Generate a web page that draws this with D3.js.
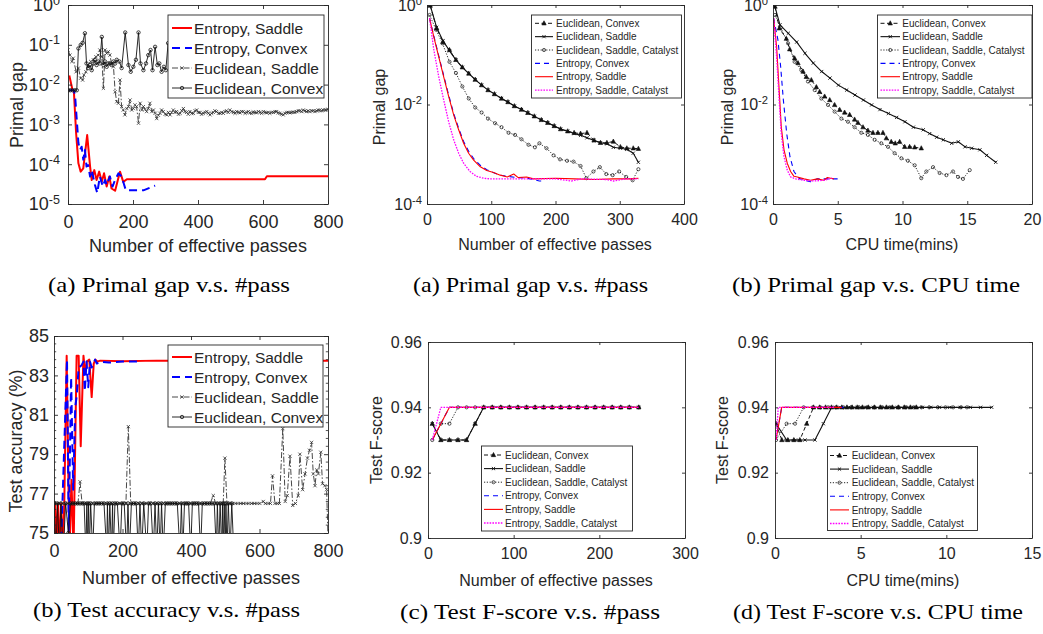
<!DOCTYPE html>
<html><head><meta charset="utf-8">
<script src="https://cdn.jsdelivr.net/npm/d3@7"></script>
<style>body{margin:0;background:#fff} svg{display:block}</style>
</head><body><script>
// ---------------- DATA ----------------
// (a) top-left: primal gap vs #pass (log y)
const aEntSaddle = [[4,1.7e-2],[14,7.2e-3],[18,7.0e-3],[25,6.0e-4],[32,1.05e-4],[39,6.5e-5],[47,7.9e-5],[59,5.4e-4],[68,8.7e-5],[73,4.0e-5],[81,7.1e-5],[88,4.0e-5],[96,6.5e-5],[104,3.6e-5],[111,5.9e-5],[119,2.75e-5],[127,4.9e-5],[134,2.45e-5],[145,2.15e-5],[152,3.6e-5],[160,6.5e-5],[170,3.6e-5],[181,4.2e-5],[606,4.2e-5],[612,5.0e-5],[800,5.0e-5]];
const aEntConvex = [[4,7.2e-3],[18,7.2e-3],[22,5.0e-3],[32,3.4e-4],[37,2.3e-4],[42,2.75e-4],[47,1.3e-4],[52,2.3e-4],[57,8.7e-5],[62,9.5e-5],[68,4.9e-5],[73,7.1e-5],[83,3.0e-5],[90,1.9e-5],[98,4.9e-5],[107,2.75e-5],[114,4.0e-5],[119,3.0e-5],[129,4.9e-5],[137,2.75e-5],[145,4.0e-5],[155,5.9e-5],[165,4.9e-5],[178,2.2e-5],[232,2.2e-5],[268,2.9e-5]];
const aEucSaddle = [[0,7.4e-2],[6,5.5e-2],[12,3.8e-2],[16,4.6e-2],[25,2.1e-2],[32,2.6e-2],[39,1.45e-2],[45,1.3e-2],[49,1.74e-2],[55,2.1e-2],[62,3.1e-2],[70,3.8e-2],[78,4.2e-2],[86,5.0e-2],[93,5.5e-2],[98,7.4e-2],[104,5.0e-2],[109,8.1e-3],[114,7.4e-2],[119,6.1e-2],[124,6.7e-2],[129,5.5e-2],[134,3.4e-2],[140,2.8e-2],[145,6.6e-3],[150,3.7e-3],[155,3.4e-3],[160,1.3e-2],[165,2.8e-3],[170,2.3e-3],[175,1.74e-3],[181,2.5e-3],[186,2.8e-3],[191,4.1e-3],[196,2.3e-3],[201,2.5e-3],[206,3.1e-3],[211,2.8e-3],[217,1.07e-3],[222,3.4e-3],[227,2.3e-3],[232,2.8e-3],[237,2.4e-3],[242,2.1e-3],[247,2.5e-3],[252,3.4e-3],[258,2.1e-3],[263,2.3e-3],[268,1.9e-3],[273,1.4e-3],[278,1.7e-3],[283,1.9e-3],[288,2.3e-3],[293,2.1e-3],[299,1.8e-3],[304,1.74e-3],[309,2.0e-3],[314,1.74e-3],[319,2.0e-3],[324,2.3e-3],[329,2.0e-3],[334,2.1e-3],[340,1.8e-3],[345,1.9e-3],[350,2.2e-3],[355,2.5e-3],[360,2.1e-3],[365,2.0e-3],[370,1.8e-3],[375,2.1e-3],[381,1.9e-3],[386,1.9e-3],[391,2.2e-3],[396,2.3e-3],[401,2.0e-3],[406,2.0e-3],[411,1.8e-3],[416,1.9e-3],[422,2.0e-3],[427,2.1e-3],[432,1.9e-3],[437,1.74e-3],[442,1.9e-3],[447,2.0e-3],[452,2.2e-3],[457,2.1e-3],[463,1.9e-3],[468,1.9e-3],[473,2.0e-3],[478,1.9e-3],[483,2.1e-3],[488,2.2e-3],[493,2.0e-3],[498,2.3e-3],[504,2.1e-3],[509,2.0e-3],[514,1.9e-3],[519,2.1e-3],[524,2.0e-3],[529,1.95e-3],[534,2.1e-3],[539,2.1e-3],[545,1.9e-3],[550,2.0e-3],[555,2.1e-3],[560,1.95e-3],[565,1.9e-3],[570,2.05e-3],[575,2.0e-3],[580,1.95e-3],[586,2.1e-3],[591,2.0e-3],[596,1.9e-3],[601,2.1e-3],[606,2.0e-3],[611,1.95e-3],[616,2.0e-3],[621,1.9e-3],[627,2.0e-3],[632,2.0e-3],[637,2.1e-3],[642,2.1e-3],[647,1.95e-3],[652,1.9e-3],[657,1.8e-3],[662,1.74e-3],[668,1.9e-3],[673,2.0e-3],[678,2.0e-3],[683,1.95e-3],[688,2.0e-3],[693,2.05e-3],[698,2.0e-3],[703,2.1e-3],[709,2.2e-3],[714,2.2e-3],[719,2.1e-3],[724,2.3e-3],[729,2.2e-3],[734,2.1e-3],[739,2.2e-3],[744,2.1e-3],[750,2.2e-3],[755,2.2e-3],[760,2.1e-3],[765,2.2e-3],[770,2.3e-3],[775,2.25e-3],[780,2.2e-3],[785,2.3e-3],[791,2.3e-3],[795,2.3e-3],[800,2.4e-3]];
const aEucConvex = [[0,7.2e-3],[7,7.2e-3],[14,7.2e-3],[21,7.2e-3],[27,7.2e-3],[32,8.1e-2],[39,9.9e-2],[45,1.12e-1],[52,1.95e-1],[57,3.4e-2],[62,2.6e-2],[68,3.1e-2],[73,2.3e-2],[78,3.4e-2],[83,4.2e-2],[88,3.1e-2],[93,3.8e-2],[98,3.4e-2],[104,1.58e-1],[109,3.1e-2],[114,3.8e-2],[119,2.8e-2],[124,3.4e-2],[129,3.4e-2],[134,3.1e-2],[140,3.8e-2],[145,3.4e-2],[150,4.2e-2],[158,3.8e-2],[165,2.6e-2],[176,2.04e-1],[186,3.1e-2],[193,2.1e-2],[201,2.8e-2],[209,4.2e-2],[217,2.04e-1],[223,3.4e-2],[232,2.3e-2],[240,3.4e-2],[247,5.5e-2],[254,7.4e-2],[260,2.3e-2],[268,8.9e-2],[275,3.1e-2],[281,3.4e-2],[288,2.1e-2],[295,2.8e-2],[301,2.3e-2],[308,1.1e-1],[315,4.0e-2]];

// (a) top-middle: primal gap vs #pass
const bEucConvex = [[5,0.97],[15,0.34],[25,0.18],[35,0.125],[45,0.079],[55,0.056],[65,0.042],[75,0.0316],[85,0.0245],[95,0.0195],[105,0.0162],[116,0.0132],[126,0.0112],[136,0.0093],[147,0.0079],[157,0.0068],[167,0.0058],[178,0.0049],[188,0.0043],[198,0.0037],[208,0.0032],[219,0.0029],[229,0.0027],[239,0.0026],[249,0.0027],[260,0.0019],[270,0.0017],[280,0.0017],[290,0.0018],[301,0.0014],[311,0.00132],[321,0.00132],[329,0.00129]];
const bEucSaddle = [[5,0.98],[15,0.355],[25,0.19],[35,0.12],[45,0.079],[55,0.056],[65,0.042],[75,0.0316],[85,0.0245],[95,0.0195],[105,0.0162],[116,0.0132],[126,0.0112],[136,0.0093],[147,0.0079],[157,0.0068],[167,0.0058],[178,0.0049],[188,0.0043],[198,0.0037],[208,0.0032],[219,0.0029],[229,0.0026],[239,0.0024],[249,0.00214],[260,0.0019],[270,0.0017],[280,0.00162],[290,0.00138],[301,0.00132],[311,0.00126],[321,0.00105],[329,0.00069]];
const bEucCatalyst = [[4,0.63],[14,0.32],[24,0.17],[35,0.072],[45,0.043],[55,0.023],[65,0.0132],[75,0.0087],[85,0.0069],[95,0.0052],[106,0.0042],[116,0.0035],[127,0.0027],[137,0.00245],[147,0.002],[158,0.00155],[168,0.00138],[175,0.00166],[186,0.00132],[197,0.00095],[207,0.00079],[218,0.00074],[228,0.00071],[239,0.00058],[248,0.00033],[259,0.00045],[269,0.00055],[279,0.0004],[289,0.00038],[299,0.00045],[310,0.00035],[320,0.0003],[329,0.0005]];
const bEntConvex = [[4,0.54],[10.6,0.24],[18.3,0.095],[26,0.038],[33.7,0.0155],[41.5,0.0066],[49.3,0.0033],[57,0.0018],[64.8,0.00115],[72.6,0.00082],[83,0.0006],[93,0.00049],[103,0.00043],[114,0.00038],[125,0.00036],[140,0.00034],[155,0.00033],[166,0.00031],[175,0.00029],[178,0.00029]];
const bEntSaddle = [[4,0.54],[10.6,0.23],[18.3,0.091],[26,0.036],[33.7,0.0145],[41.5,0.0062],[49.3,0.0031],[57,0.00166],[64.8,0.00105],[72.6,0.00076],[83,0.00056],[93,0.00047],[103.5,0.00043],[114,0.00038],[125,0.00035],[135,0.0004],[142,0.00034],[155,0.00035],[166,0.00032],[200,0.00033],[230,0.00032],[260,0.00031],[290,0.00032],[315,0.00032],[329,0.00033]];
const bEntCatalyst = [[4,0.54],[10.6,0.126],[18.3,0.036],[26,0.0123],[33.7,0.0045],[41.5,0.00195],[49.3,0.00105],[57,0.00066],[67,0.00045],[77,0.00036],[88,0.00033],[98,0.00032],[150,0.00032],[200,0.00032],[225,0.00029],[240,0.00032],[280,0.00031],[290,0.00029],[310,0.00032],[329,0.00032]];

// (b) top-right: primal gap vs CPU time
const cEucConvex = [[0.15,0.93],[0.49,0.34],[1.03,0.21],[1.29,0.129],[1.67,0.085],[1.93,0.068],[2.32,0.046],[2.57,0.036],[2.96,0.031],[3.35,0.0224],[3.6,0.018],[3.99,0.0145],[4.38,0.0123],[4.76,0.0098],[5.15,0.0078],[5.53,0.0069],[5.92,0.0062],[6.3,0.005],[6.56,0.0043],[6.95,0.0035],[7.33,0.003],[7.72,0.0027],[8.1,0.0027],[8.49,0.0027],[8.75,0.0021],[9.13,0.00178],[9.44,0.00166],[9.78,0.00178],[10.17,0.00141],[10.55,0.00141],[10.94,0.00138],[11.45,0.00132]];
const cEucSaddle = [[0.15,0.93],[0.54,0.4],[1.18,0.27],[1.83,0.18],[2.47,0.107],[3.11,0.068],[3.76,0.046],[4.4,0.034],[5.05,0.0245],[5.69,0.0195],[6.33,0.0155],[6.98,0.0123],[7.62,0.0098],[8.26,0.0079],[8.91,0.0066],[9.55,0.0055],[10.19,0.0045],[10.84,0.0035],[11.6,0.0031],[12.1,0.0026],[12.64,0.0022],[13.15,0.00195],[13.8,0.00166],[14.31,0.00178],[14.83,0.00141],[15.34,0.00132],[15.98,0.00123],[16.5,0.00095],[17.2,0.00069]];
const cEucCatalyst = [[0.15,0.63],[0.6,0.35],[1.16,0.17],[1.67,0.072],[2.19,0.049],[2.7,0.029],[3.22,0.0195],[3.73,0.0132],[4.25,0.0098],[4.76,0.0072],[5.28,0.0052],[5.79,0.0045],[6.3,0.0035],[6.82,0.0027],[7.33,0.00245],[7.85,0.00195],[8.36,0.00166],[8.88,0.00141],[9.39,0.00105],[9.91,0.00083],[10.42,0.00074],[10.94,0.0006],[11.45,0.00033],[11.84,0.00045],[12.36,0.00055],[12.87,0.00042],[13.39,0.00038],[13.9,0.00045],[14.29,0.00035],[14.67,0.00032],[15.19,0.00048]];
const cEntConvex = [[0.05,0.54],[0.38,0.2],[0.59,0.058],[0.8,0.0123],[1.06,0.0026],[1.31,0.00089],[1.62,0.00045],[2.0,0.00033],[2.39,0.0003],[2.9,0.00028],[3.42,0.00032],[3.93,0.00032],[4.45,0.00032],[5.05,0.00032]];
const cEntSaddle = [[0.05,0.54],[0.28,0.145],[0.46,0.023],[0.64,0.0035],[0.85,0.00123],[1.1,0.00066],[1.36,0.00045],[1.62,0.00036],[1.88,0.00035],[2.39,0.00032],[2.9,0.0003],[3.42,0.00032],[3.93,0.0003],[4.2,0.00034],[4.45,0.00033],[4.7,0.00032]];
const cEntCatalyst = [[0.05,0.54],[0.28,0.091],[0.46,0.0145],[0.64,0.0026],[0.85,0.00089],[1.1,0.00048],[1.36,0.00035],[1.75,0.00032],[2.39,0.0003],[3.16,0.00029],[3.93,0.0003],[4.57,0.00033]];

// (b) bottom-left: test accuracy vs #pass
const dEntSaddle = [[0,74],[4,76.5],[8,74],[12,76.5],[16,74],[21,76.5],[26,74],[30,76.5],[37,84],[45,74],[51,77.7],[57,74],[66,84],[72,84],[78,79.4],[86,84],[91,83.1],[96,83.7],[103,83.8],[110,81.9],[116,83.6],[121,83.8],[126,83.7],[135,83.75],[200,83.72],[300,83.75],[400,83.74],[500,83.75],[600,83.75],[700,83.75],[800,83.75]];
const dEntConvex = [[20,74],[38,83.8],[43,75.1],[50,82.9],[56,77.2],[62,81.4],[66,81.9],[72,83.4],[80,83.5],[86,83.7],[90,82.2],[95,83.7],[100,82.4],[105,83.7],[110,83.4],[120,83.8],[125,83.6],[135,83.7],[160,83.65],[200,83.7],[250,83.7]];
const dEucSaddle = [[0,76.5],[8,76.5],[16,76.5],[24,76.5],[32,76.5],[40,76.5],[48,76.5],[56,76.5],[64,76.5],[70,76.5],[76,77.6],[82,76.5],[90,76.5],[98,76.5],[106,76.5],[114,76.5],[122,76.5],[130,76.5],[138,76.5],[146,76.5],[154,76.5],[162,76.5],[170,76.5],[178,76.5],[186,76.5],[194,76.5],[202,76.5],[210,76.5],[217,80.4],[224,76.5],[232,76.5],[240,76.5],[248,76.5],[256,76.5],[264,76.5],[272,76.5],[280,76.5],[288,76.5],[296,76.5],[304,76.5],[312,76.5],[320,76.5],[328,76.5],[336,76.5],[344,76.5],[352,76.5],[360,76.5],[368,76.5],[376,76.5],[384,76.5],[392,76.5],[400,76.5],[408,76.5],[416,76.5],[424,76.5],[432,76.5],[440,76.5],[448,76.5],[456,76.5],[465,76.9],[472,76.5],[480,76.5],[488,76.5],[494,76.5],[499,78.8],[505,76.5],[513,76.5],[521,76.5],[529,76.5],[537,76.5],[545,76.5],[553,76.5],[561,76.5],[569,76.5],[577,76.5],[585,76.5],[593,76.5],[601,76.5],[611,76.6],[617,76.5],[625,76.5],[632,76.5],[638,77.9],[645,76.5],[652,76.5],[658,76.5],[668,80.3],[675,76.6],[681,76.9],[689,78.9],[697,76.4],[705,76.5],[713,76.9],[718,79.0],[726,77.2],[733,78.0],[740,78.8],[746,79.2],[752,79.6],[757,78.0],[762,77.4],[767,78.2],[772,78.0],[779,79.1],[784,77.5],[791,77.4],[796,77.2],[800,74.8]];
const dEucConvex = [[0,76.5],[6,74],[10,76.5],[16,74],[20,76.5],[27,74],[34,76.5],[42,75],[48,76.5],[55,76.5],[62,76.5],[69,76.5],[76,76.5],[83,76.5],[88,76.5],[93,74],[96,76.5],[98,74],[101,76.5],[103,74],[107,76.5],[113,74],[118,76.5],[125,76.5],[132,76.5],[139,76.5],[146,76.5],[154,74],[156,76.5],[159,74],[163,76.5],[168,74],[171,76.5],[173,74],[178,76.5],[185,76.5],[193,74],[198,76.5],[205,76.5],[212,74],[216,76.5],[220,74],[226,76.5],[233,76.5],[240,76.5],[246,74],[251,76.5],[256,74],[262,76.5],[271,74],[276,76.5],[283,76.5],[290,74],[295,76.5],[300,74],[305,76.5],[310,74],[314,76.5],[319,74],[325,76.5],[332,76.5],[339,76.5],[346,76.5],[353,76.5],[360,76.5],[368,74],[372,76.5],[376,74],[381,76.5],[387,76.5],[393,76.5],[399,74],[404,76.5],[410,76.5],[416,76.5],[422,76.5],[428,74],[433,76.5],[440,76.5],[447,76.5],[454,76.5],[461,76.5],[468,76.5],[474,74],[477,76.5],[481,74],[485,76.5],[490,74],[492,76.5],[494,74],[497,76.5],[500,74],[502,76.5],[505,74],[509,76.5],[514,74],[519,76.5],[525,74]];

// (c) bottom-middle: test F-score vs #pass
const eEucConvex = [[5,0.935],[15,0.93],[25,0.93],[35,0.93],[45,0.93],[55,0.935],[65,0.94],[75,0.94],[85,0.94],[95,0.94],[105,0.94],[115,0.94],[125,0.94],[135,0.94],[145,0.94],[155,0.94],[165,0.94],[175,0.94],[185,0.94],[195,0.94],[205,0.94],[215,0.94],[225,0.94],[235,0.94],[246,0.94]];
const eEucSaddle = [[5,0.935],[15,0.93],[25,0.93],[35,0.93],[45,0.93],[55,0.935],[65,0.94],[75,0.94],[85,0.94],[95,0.94],[105,0.94],[115,0.94],[125,0.94],[135,0.94],[145,0.94],[155,0.94],[165,0.94],[175,0.94],[185,0.94],[195,0.94],[205,0.94],[215,0.94],[225,0.94],[235,0.94],[246,0.94]];
const eEucCatalyst = [[5,0.93],[15,0.935],[25,0.935],[35,0.94],[45,0.94],[55,0.94],[65,0.94],[75,0.94],[85,0.94],[95,0.94],[105,0.94],[115,0.94],[125,0.94],[135,0.94],[145,0.94],[155,0.94],[165,0.94],[175,0.94],[185,0.94],[195,0.94],[205,0.94],[215,0.94],[225,0.94],[235,0.94],[246,0.94]];
const eEntConvex = [[5,0.93],[15,0.935],[25,0.94],[246,0.94]];
const eEntSaddle = [[5,0.93],[15,0.935],[25,0.94],[246,0.94]];
const eEntCatalyst = [[5,0.93],[15,0.94],[246,0.94]];

// (d) bottom-right: test F-score vs CPU time
const fEucConvex = [[0.06,0.935],[0.4,0.93],[0.75,0.93],[1.1,0.93],[1.45,0.93],[1.85,0.935],[2.25,0.94],[2.6,0.94],[2.95,0.94],[3.3,0.94],[3.6,0.94],[3.9,0.94],[4.2,0.94],[4.5,0.94],[4.8,0.94],[5.1,0.94],[5.45,0.94],[5.8,0.94],[6.15,0.94],[6.5,0.94],[6.85,0.94],[7.2,0.94],[7.55,0.94],[7.9,0.94],[8.25,0.94]];
const fEucSaddle = [[0.06,0.935],[0.68,0.93],[1.2,0.93],[1.75,0.93],[2.33,0.93],[2.82,0.935],[3.31,0.94],[3.8,0.94],[4.3,0.94],[4.8,0.94],[5.3,0.94],[5.75,0.94],[6.2,0.94],[6.7,0.94],[7.15,0.94],[7.6,0.94],[8.1,0.94],[8.6,0.94],[9.1,0.94],[9.6,0.94],[10.2,0.94],[10.8,0.94],[11.4,0.94],[12.0,0.94],[12.65,0.94]];
const fEucCatalyst = [[0.06,0.93],[0.68,0.935],[1.17,0.935],[1.67,0.94],[2.2,0.94],[2.65,0.94],[3.1,0.94],[3.55,0.94],[4.0,0.94],[4.45,0.94],[4.9,0.94],[5.35,0.94],[5.8,0.94],[6.25,0.94],[6.7,0.94],[7.2,0.94],[7.65,0.94],[8.1,0.94],[8.55,0.94],[9.0,0.94],[9.5,0.94],[9.95,0.94],[10.4,0.94],[10.85,0.94],[11.2,0.94]];
const fEntConvex = [[0.06,0.93],[0.39,0.94],[4.0,0.94]];
const fEntSaddle = [[0.06,0.93],[0.39,0.94],[3.9,0.94]];
const fEntCatalyst = [[0.06,0.93],[0.19,0.94],[3.5,0.94]];

// tick values and labels
const aXTicks = [0,200,400,600,800], aYTicks = [1e-5,1e-4,1e-3,1e-2,1e-1,1];
const bXTicks = [0,100,200,300,400], bYTicks = [1e-4,1e-2,1];
const cXTicks = [0,5,10,15,20];
const dXTicks = [0,200,400,600,800], dYTicks = [75,77,79,81,83,85];
const eXTicks = [0,100,200,300], eYTicks = [0.9,0.92,0.94,0.96];
const fXTicks = [0,5,10,15];
const legend4 = ["Entropy, Saddle","Entropy, Convex","Euclidean, Saddle","Euclidean, Convex"];
const legend6 = ["Euclidean, Convex","Euclidean, Saddle","Euclidean, Saddle, Catalyst","Entropy, Convex","Entropy, Saddle","Entropy, Saddle, Catalyst"];
const captions = ["(a) Primal gap v.s. #pass","(a) Primal gap v.s. #pass","(b) Primal gap v.s. CPU time","(b) Test accuracy v.s. #pass","(c) Test F-score v.s. #pass","(d) Test F-score v.s. CPU time"];

// ---------------- DRAWING ----------------
const SANS = '"Liberation Sans", Arial, Helvetica, sans-serif';
const SERIF = '"Liberation Serif", "Times New Roman", serif';
const AX = '#262626';
const svg = d3.select('body').append('svg').attr('width',1043).attr('height',634)
  .style('font-family',SANS);
svg.append('rect').attr('width',1043).attr('height',634).attr('fill','#fff');

function markerPath(t, s){
  if(t==='x') return `M${-s},${-s}L${s},${s}M${-s},${s}L${s},${-s}`;
  if(t==='o') return d3.symbol(d3.symbolCircle, Math.PI*s*s)();
  if(t==='^') return `M0,${-s*1.15}L${s},${s*0.75}L${-s},${s*0.75}Z`;
  return '';
}
const BIG = {
  entSaddle:{color:'#ff0000',w:2},
  entConvex:{color:'#0000ff',w:2,dash:'8,5'},
  eucSaddle:{color:'#333',w:0.9,dash:'6,2,1.5,2',marker:'x',ms:1.6,mw:0.8},
  eucConvex:{color:'#111',w:0.9,marker:'o',ms:1.7,mw:0.8}
};
const SMALL = {
  eucConvex:{color:'#111',w:1,dash:'4,2.5',marker:'^',ms:2.2,mw:0.6,fill:true},
  eucSaddle:{color:'#111',w:1.1,marker:'x',ms:1.6,mw:0.9},
  eucCatalyst:{color:'#111',w:0.9,dash:'1.2,1.6',marker:'o',ms:1.6,mw:0.7},
  entConvex:{color:'#0000ff',w:1.1,dash:'5,4'},
  entSaddle:{color:'#ff0000',w:1.1},
  entCatalyst:{color:'#ff00ff',w:1.3,dash:'1.6,1.2'}
};

function drawSeries(g, x, y, data, st){
  const line = d3.line().x(d=>x(d[0])).y(d=>y(d[1]));
  g.append('path').attr('d',line(data)).attr('fill','none').attr('stroke',st.color)
    .attr('stroke-width',st.w).attr('stroke-dasharray',st.dash||null).attr('stroke-linejoin','round');
  if(st.marker){
    g.append('g').selectAll('path').data(data).join('path')
      .attr('transform',d=>`translate(${x(d[0])},${y(d[1])})`)
      .attr('d',markerPath(st.marker,st.ms))
      .attr('fill',st.fill?st.color:'none').attr('stroke',st.color).attr('stroke-width',st.mw);
  }
}

function panel(p){
  const x = d3.scaleLinear().domain(p.xd).range([p.l,p.r]);
  const y = (p.log?d3.scaleLog():d3.scaleLinear()).domain(p.yd).range([p.b,p.t]);
  const g = svg.append('g');
  const cid = 'clip'+p.id;
  svg.append('defs').append('clipPath').attr('id',cid).append('rect')
    .attr('x',p.l).attr('y',p.t).attr('width',p.r-p.l).attr('height',p.b-p.t);
  const dg = g.append('g').attr('clip-path',`url(#${cid})`);
  p.series.forEach(s=>drawSeries(dg,x,y,s.data,s.st));
  const tl = p.tl;
  const style = sel=>{ sel.select('.domain').attr('stroke',AX).attr('stroke-width',0.9);
    sel.selectAll('.tick line').attr('stroke',AX).attr('stroke-width',0.9);
    sel.selectAll('text').attr('fill',AX).style('font-size',p.fs+'px').style('font-family',SANS); };
  g.append('g').attr('transform',`translate(0,${p.b})`)
    .call(d3.axisBottom(x).tickValues(p.xt).tickSizeInner(-tl).tickSizeOuter(0).tickPadding(p.xpad).tickFormat(d3.format('d'))).call(style);
  g.append('g').attr('transform',`translate(0,${p.t})`)
    .call(d3.axisTop(x).tickValues(p.xt).tickSizeInner(-tl).tickSizeOuter(0).tickFormat('')).call(style);
  const yl = d3.axisLeft(y).tickValues(p.yt).tickSizeInner(-tl).tickSizeOuter(0).tickPadding(p.ypad);
  if(p.log) yl.tickFormat(''); else yl.tickFormat(p.yfmt);
  g.append('g').attr('transform',`translate(${p.l},0)`).call(yl).call(style);
  g.append('g').attr('transform',`translate(${p.r},0)`)
    .call(d3.axisRight(y).tickValues(p.yt).tickSizeInner(-tl).tickSizeOuter(0).tickFormat('')).call(style);
  if(p.minor){
    [p.l,p.r].forEach((xx,i)=>{
      g.append('g').selectAll('line').data(p.minor).join('line')
        .attr('x1',xx).attr('x2',xx+(i?-1:1)*tl*0.55).attr('y1',d=>y(d)).attr('y2',d=>y(d))
        .attr('stroke',AX).attr('stroke-width',0.8);
    });
  }
  if(p.log){
    const lg = g.append('g');
    p.yt.forEach(v=>{
      const t = lg.append('text').attr('x',p.l-p.ypad).attr('y',y(v)).attr('dy','0.36em')
        .attr('text-anchor','end').attr('fill',AX).style('font-size',p.fs+'px');
      t.append('tspan').text('10');
      t.append('tspan').attr('dy','-0.55em').style('font-size',(p.fs*0.7)+'px').text(String(Math.round(Math.log10(v))));
    });
  }
  g.append('text').attr('x',p.xlab[1]).attr('y',p.xlab[2]).attr('text-anchor','middle')
    .attr('fill',AX).style('font-size',p.lfs+'px').text(p.xlab[0]);
  g.append('text').attr('transform',`translate(${p.ylab[1]},${p.ylab[2]}) rotate(-90)`).attr('text-anchor','middle')
    .attr('fill',AX).style('font-size',p.lfs+'px').text(p.ylab[0]);
  const L = p.leg;
  const lgd = g.append('g');
  lgd.append('rect').attr('x',L.x).attr('y',L.y).attr('width',L.w).attr('height',L.h)
    .attr('fill','#fff').attr('stroke',AX).attr('stroke-width',0.9);
  L.items.forEach((name,i)=>{
    const st = L.styles[i];
    const yy = L.y0 + i*L.dy;
    lgd.append('line').attr('x1',L.s0).attr('x2',L.s1).attr('y1',yy).attr('y2',yy)
      .attr('stroke',st.color).attr('stroke-width',st.w).attr('stroke-dasharray',st.dash||null);
    if(st.marker) lgd.append('path').attr('transform',`translate(${(L.s0+L.s1)/2},${yy})`)
      .attr('d',markerPath(st.marker,st.ms)).attr('fill',st.fill?st.color:'none')
      .attr('stroke',st.color).attr('stroke-width',st.mw);
    lgd.append('text').attr('x',L.tx).attr('y',yy).attr('dy','0.36em').attr('fill',AX)
      .style('font-size',L.fs+'px').text(name);
  });
}

const big4 = [BIG.entSaddle,BIG.entConvex,BIG.eucSaddle,BIG.eucConvex];
const small6 = [SMALL.eucConvex,SMALL.eucSaddle,SMALL.eucCatalyst,SMALL.entConvex,SMALL.entSaddle,SMALL.entCatalyst];

panel({id:'a',l:68,r:328,t:5,b:204,xd:[0,800],yd:[1e-5,1],log:true,xt:aXTicks,yt:aYTicks,tl:4,fs:18,xpad:11,ypad:8,
  series:[{data:aEntSaddle,st:BIG.entSaddle},{data:aEntConvex,st:BIG.entConvex},{data:aEucSaddle,st:BIG.eucSaddle},{data:aEucConvex,st:BIG.eucConvex}],
  xlab:['Number of effective passes',198,252],ylab:['Primal gap',23,105],lfs:18,
  leg:{x:168,y:15,w:156,h:83,y0:28,dy:20,s0:172,s1:192,tx:194,fs:15.5,items:legend4,styles:big4}});

panel({id:'b',l:427,r:684,t:5,b:204,xd:[0,400],yd:[1e-4,1],log:true,xt:bXTicks,yt:bYTicks,tl:3,fs:16,xpad:10,ypad:5,
  series:[{data:bEucConvex,st:SMALL.eucConvex},{data:bEucSaddle,st:SMALL.eucSaddle},{data:bEucCatalyst,st:SMALL.eucCatalyst},{data:bEntConvex,st:SMALL.entConvex},{data:bEntSaddle,st:SMALL.entSaddle},{data:bEntCatalyst,st:SMALL.entCatalyst}],
  xlab:['Number of effective passes',555,250],ylab:['Primal gap',385,107],lfs:16,
  leg:{x:531.5,y:15,w:150,h:83,y0:23.3,dy:13.35,s0:535,s1:553,tx:556,fs:10,items:legend6,styles:small6}});

panel({id:'c',l:773,r:1032,t:5,b:204,xd:[0,20],yd:[1e-4,1],log:true,xt:cXTicks,yt:bYTicks,tl:3,fs:16,xpad:10,ypad:5,
  series:[{data:cEucConvex,st:SMALL.eucConvex},{data:cEucSaddle,st:SMALL.eucSaddle},{data:cEucCatalyst,st:SMALL.eucCatalyst},{data:cEntConvex,st:SMALL.entConvex},{data:cEntSaddle,st:SMALL.entSaddle},{data:cEntCatalyst,st:SMALL.entCatalyst}],
  xlab:['CPU time(mins)',902,250],ylab:['Primal gap',733,107],lfs:16,
  leg:{x:877.5,y:15,w:154.5,h:83,y0:23.3,dy:13.35,s0:880.5,s1:900,tx:902.3,fs:10,items:legend6,styles:small6}});

panel({id:'d',l:54,r:328,t:336,b:533,xd:[0,800],yd:[75,85],log:false,xt:dXTicks,yt:dYTicks,tl:4,fs:18,xpad:11,ypad:5,yfmt:d3.format('d'),
  minor:[75.4,75.8,76.2,76.6,77.4,77.8,78.2,78.6,79.4,79.8,80.2,80.6,81.4,81.8,82.2,82.6,83.4,83.8,84.2,84.6],
  series:[{data:dEntSaddle,st:BIG.entSaddle},{data:dEntConvex,st:BIG.entConvex},{data:dEucSaddle,st:BIG.eucSaddle},{data:dEucConvex,st:BIG.eucConvex}],
  xlab:['Number of effective passes',191,584],ylab:['Test accuracy (%)',22,441],lfs:18,
  leg:{x:168,y:345,w:155,h:82,y0:357,dy:20,s0:172,s1:192,tx:194,fs:15.5,items:legend4,styles:big4}});

const fmt2 = d=>d3.format('.2f')(d).replace(/0$/,'').replace(/\.$/,'');
panel({id:'e',l:428,r:685,t:342,b:538,xd:[0,300],yd:[0.9,0.96],log:false,xt:eXTicks,yt:eYTicks,tl:3,fs:16,xpad:10,ypad:6,yfmt:fmt2,
  series:[{data:eEucConvex,st:SMALL.eucConvex},{data:eEucSaddle,st:SMALL.eucSaddle},{data:eEucCatalyst,st:SMALL.eucCatalyst},{data:eEntConvex,st:SMALL.entConvex},{data:eEntSaddle,st:SMALL.entSaddle},{data:eEntCatalyst,st:SMALL.entCatalyst}],
  xlab:['Number of effective passes',556,586],ylab:['Test F-score',382,440],lfs:16,
  leg:{x:481.5,y:446,w:151,h:85,y0:455,dy:13.6,s0:484,s1:503,tx:505,fs:10,items:legend6,styles:small6}});

panel({id:'f',l:775,r:1032,t:342,b:538,xd:[0,15],yd:[0.9,0.96],log:false,xt:fXTicks,yt:eYTicks,tl:3,fs:16,xpad:10,ypad:6,yfmt:fmt2,
  series:[{data:fEucConvex,st:SMALL.eucConvex},{data:fEucSaddle,st:SMALL.eucSaddle},{data:fEucCatalyst,st:SMALL.eucCatalyst},{data:fEntConvex,st:SMALL.entConvex},{data:fEntSaddle,st:SMALL.entSaddle},{data:fEntCatalyst,st:SMALL.entCatalyst}],
  xlab:['CPU time(mins)',903,586],ylab:['Test F-score',728,440],lfs:16,
  leg:{x:827.5,y:446.5,w:150,h:84,y0:455.5,dy:13.6,s0:830,s1:849,tx:851.7,fs:10,items:legend6,styles:small6}});

// captions (width matched to the reference)
const capPos = [[169,292,242],[530.5,292,235],[876,292,288],[166.5,617,267],[530,619,260],[878,619,290]];
captions.forEach((c,i)=>{
  svg.append('text').attr('x',capPos[i][0]).attr('y',capPos[i][1]).attr('text-anchor','middle')
    .attr('textLength',capPos[i][2]).attr('lengthAdjust','spacingAndGlyphs')
    .style('font-family',SERIF).style('font-size','22px').attr('fill','#000').text(c);
});
</script></body></html>
